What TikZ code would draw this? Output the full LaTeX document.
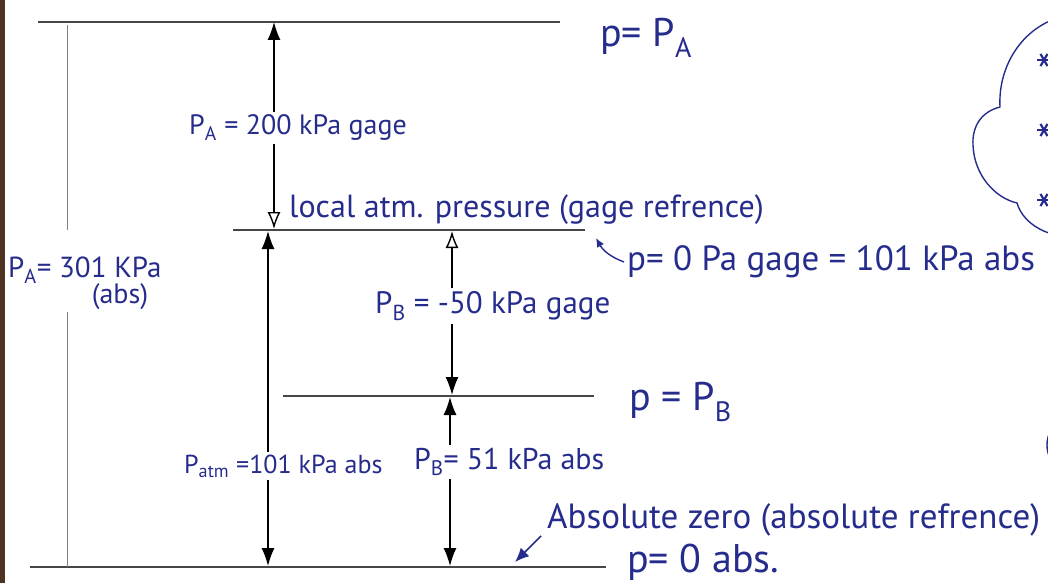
\documentclass[tikz,border=0pt]{standalone}
\usepackage{fontspec}
\setmainfont{PT Sans}
\usepackage{tikz}
\usetikzlibrary{positioning,calc,arrows.meta}
\usepackage{xcolor}
\definecolor{ink}{RGB}{38,44,140}
\definecolor{lead}{RGB}{70,70,70}
\definecolor{frame}{RGB}{78,52,32}

\begin{document}
\begin{tikzpicture}[x=1pt, y=-1pt,
  level/.style={draw=lead, line width=1.8pt},
  guide/.style={draw=gray, line width=1pt},
  dim/.style={draw=black, line width=1.4pt},
  note/.style={text=ink, anchor=west, inner sep=3pt,
    font=\fontsize{28}{30}\selectfont},
  big/.style={note, font=\fontsize{40}{42}\selectfont},
  upo/.style={-{Latex[open,length=17pt,width=13pt]}},
  >={Latex[length=18pt,width=13pt]}
]
  \useasboundingbox (0,0) rectangle (1048,583);
  \clip (0,0) rectangle (1048,583);
  \fill[frame] (0,0) rectangle (5,583);

  % pressure levels
  \coordinate (topL) at (38,22);   \coordinate (topR) at (560,22);
  \coordinate (atmL) at (233,230); \coordinate (atmR) at (585,230);
  \coordinate (pbL)  at (283,396); \coordinate (pbR)  at (594,396);
  \coordinate (zeroL) at (30,567); \coordinate (zeroR) at (606,567);
  \draw[level] (topL) -- (topR);
  \draw[level] (atmL) -- (atmR);
  \draw[level] (pbL) -- (pbR);
  \draw[level] (zeroL) -- (zeroR);

  % labels at the right of the levels
  \node[big] (pA) at (597,38) {p= P\textsubscript{A}};
  \node[note, font=\fontsize{32}{34}\selectfont] (atmNote) at (286,210) {local atm. pressure (gage refrence)};
  \node[note, font=\fontsize{35}{37}\selectfont] (gz) at (624,262) {p= 0 Pa gage = 101 kPa abs};
  \node[big] (pB) at (626,402) {p = P\textsubscript{B}};
  \node[note, font=\fontsize{35}{37}\selectfont] (az) at (544,520) {Absolute zero (absolute refrence)};
  \node[big] (p0) at (624,562) {p= 0 abs.};
  \coordinate (gzTip) at (596,238);
  \coordinate (azTail) at (541,536);
  \coordinate (azTip) at (515,562);
  \draw[ink, line width=1.4pt, -{Latex[length=9pt,width=8pt]}]
    (gz.west) to[bend left=20] (gzTip);
  \draw[ink, line width=1.6pt, -{Latex[length=14pt,width=12pt]}] (azTail) -- (azTip);

  % P_A gage
  \node[note] (gA) at (186,128) {P\textsubscript{A} = 200 kPa gage};
  \coordinate (aTop) at (274,22); \coordinate (aBot) at (274,229);
  \draw[dim, ->] (aTop |- gA.north) -- (aTop);
  \draw[dim, upo] (aTop |- gA.south) -- (aBot);

  % P_A absolute
  \node[note, font=\fontsize{29}{31}\selectfont] (aAbs) at (5,270) {P\textsubscript{A}= 301 KPa};
  \node[note, anchor=center] (aAbsU) at (120,297) {(abs)};
  \coordinate (vTop) at (67,25); \coordinate (vBot) at (67,567);
  \draw[guide] (vTop) -- (67,230);
  \draw[guide] (67,312) -- (vBot);

  % P_atm
  \node[note, font=\fontsize{26}{28}\selectfont] (atm) at (181,466) {P\textsubscript{atm} =101 kPa abs};
  \coordinate (mTop) at (268,231); \coordinate (mBot) at (268,566);
  \draw[dim, ->] (mTop |- atm.north) -- (mTop);
  \draw[dim, ->] (mTop |- atm.south) -- (mBot);

  % P_B gage
  \node[note, font=\fontsize{31}{33}\selectfont] (gB) at (372,306) {P\textsubscript{B} = -50 kPa gage};
  \coordinate (bTop) at (452,231); \coordinate (bBot) at (452,395);
  \draw[dim, upo] (bTop |- gB.north) -- (bTop);
  \draw[dim, ->] (bTop |- gB.south) -- (bBot);

  % P_B absolute
  \node[note, font=\fontsize{30}{32}\selectfont] (aB) at (411,462) {P\textsubscript{B}= 51 kPa abs};
  \coordinate (cTop) at (450,397); \coordinate (cBot) at (450,566);
  \draw[dim, ->] (cTop |- aB.north) -- (cTop);
  \draw[dim, ->] (cTop |- aB.south) -- (cBot);

  % cloud at the edge
  \draw[ink, line width=1.4pt] (1052,20) .. controls (1018,34) and (998,70) .. (1000,107)
    .. controls (980,112) and (972,128) .. (973,145)
    .. controls (974,175) and (995,198) .. (1017,203)
    .. controls (1022,220) and (1038,230) .. (1052,234);
  \foreach \y in {60,130,200}
    \foreach \a in {0,60,120}
      \draw[ink, line width=2.2pt] (1044,\y) ++(\a:7) -- ++(\a+180:14);
  \draw[ink, line width=1.4pt] (1078,445) circle (31pt);
\end{tikzpicture}
\end{document}
